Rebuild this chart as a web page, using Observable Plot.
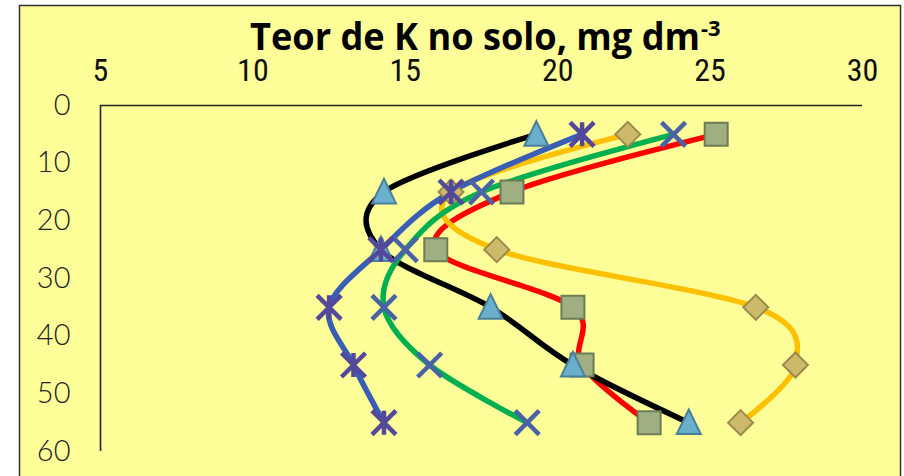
<!DOCTYPE html>
<html>
<head>
<meta charset="utf-8">
<script src="https://cdn.jsdelivr.net/npm/d3@7"></script>
<script src="https://cdn.jsdelivr.net/npm/@observablehq/plot@0.6"></script>
<style>
  html, body { margin: 0; padding: 0; background: #ffffff; }
  #chart svg { display: block; }
</style>
</head>
<body>
<div id="chart"></div>
<script>
// Depth (cm) for each observation
const depths = [5, 15, 25, 35, 45, 55];
// K content (mg dm-3) per series
const serieTriangulo = [19.3, 14.3, 14.2, 17.8, 20.5, 24.3]; // black line
const serieQuadrado  = [25.2, 18.5, 16.0, 20.5, 20.8, 23.0]; // red line
const serieLosango   = [22.3, 16.5, 18.0, 26.5, 27.8, 26.0]; // orange line
const serieXis       = [23.8, 17.5, 15.0, 14.3, 15.8, 19.0]; // green line
const serieAsterisco = [20.8, 16.5, 14.2, 12.5, 13.3, 14.3]; // blue line
const xTicks = [5, 10, 15, 20, 25, 30];
const yTicks = [0, 10, 20, 30, 40, 50, 60];
const titulo = "Teor de K no solo, mg dm";
const tituloSup = "-3";

const rows = vals => depths.map((d, i) => ({x: vals[i], y: d}));

// custom marker symbols (r = sqrt(size/pi))
const sym = draw => ({draw(ctx, size) { draw(ctx, Math.sqrt(size / Math.PI)); }});
const symSquare = sym((c, r) => { c.rect(-r, -r, 2 * r, 2 * r); });
const symDiamond = sym((c, r) => { c.moveTo(0, -r); c.lineTo(r, 0); c.lineTo(0, r); c.lineTo(-r, 0); c.closePath(); });
const symTriangle = sym((c, r) => { c.moveTo(0, -1.1 * r); c.lineTo(r, 0.95 * r); c.lineTo(-r, 0.95 * r); c.closePath(); });
const symTimes = sym((c, r) => { c.moveTo(-r, -r); c.lineTo(r, r); c.moveTo(-r, r); c.lineTo(r, -r); });
const symStar = sym((c, r) => { c.moveTo(-r, -r); c.lineTo(r, r); c.moveTo(-r, r); c.lineTo(r, -r); c.moveTo(0, -r); c.lineTo(0, r); });

const lineOpts = (color) => ({x: "x", y: "y", stroke: color, strokeWidth: 5.5, curve: "cardinal", tension: 0, strokeLinecap: "butt"});

const chart = Plot.plot({
  width: 904,
  height: 476,
  marginLeft: 100,
  marginRight: 42,
  marginTop: 105,
  marginBottom: 25,
  style: {background: "transparent", overflow: "visible"},
  x: {domain: [5, 30]},
  y: {domain: [0, 60], reverse: true},
  marks: [
    Plot.axisX({anchor: "top", ticks: xTicks, tickSize: 0, tickPadding: 25, label: null,
      fontSize: 32, fontFamily: "'Liberation Sans Narrow', 'Roboto Condensed', 'DejaVu Sans Condensed', Roboto, sans-serif", fill: "#111"}),
    Plot.axisY({anchor: "left", ticks: yTicks, tickSize: 0, tickPadding: 30, label: null,
      fontSize: 29, fontFamily: "Lato, 'Noto Sans', sans-serif", fontWeight: 300, fill: "#222"}),
    Plot.ruleY([0], {stroke: "#222", strokeWidth: 1.6}),
    Plot.ruleX([5], {stroke: "#222", strokeWidth: 1.6}),
    Plot.line(rows(serieQuadrado), lineOpts("#ff0000")),
    Plot.line(rows(serieLosango), lineOpts("#ffc000")),
    Plot.line(rows(serieTriangulo), lineOpts("#000000")),
    Plot.line(rows(serieXis), lineOpts("#00b050")),
    Plot.line(rows(serieAsterisco), lineOpts("#3a5db5")),
    Plot.dot(rows(serieQuadrado), {x: "x", y: "y", symbol: symSquare, r: 11.5, fill: "#9faf82", stroke: "#6b7c57", strokeWidth: 2}),
    Plot.dot(rows(serieLosango), {x: "x", y: "y", symbol: symDiamond, r: 12.5, fill: "#cdb96a", stroke: "#9c8a4c", strokeWidth: 2}),
    Plot.dot(rows(serieTriangulo), {x: "x", y: "y", symbol: symTriangle, r: 12, fill: "#6aafcb", stroke: "#4a7f9c", strokeWidth: 2}),
    Plot.dot(rows(serieXis), {x: "x", y: "y", symbol: symTimes, r: 12, fill: "none", stroke: "#4a62a6", strokeWidth: 4.5}),
    Plot.dot(rows(serieAsterisco), {x: "x", y: "y", symbol: symStar, r: 12, fill: "none", stroke: "#53489a", strokeWidth: 4.5})
  ]
});

const svg = d3.select(chart);
// chart area background with border
svg.insert("rect", ":first-child")
  .attr("x", 19.5).attr("y", 5.5).attr("width", 881).attr("height", 490)
  .attr("fill", "#ffff99").attr("stroke", "#333").attr("stroke-width", 1.5);
// title
svg.append("text")
  .attr("x", 250).attr("y", 50)
  .attr("text-anchor", "start")
  .attr("font-family", "'Open Sans', Lato, sans-serif")
  .attr("font-weight", 700).attr("font-size", 38)
  .attr("textLength", 450).attr("lengthAdjust", "spacingAndGlyphs")
  .attr("fill", "#000")
  .text(titulo);
svg.append("text")
  .attr("x", 701).attr("y", 36)
  .attr("text-anchor", "start")
  .attr("font-family", "'Open Sans', Lato, sans-serif")
  .attr("font-weight", 700).attr("font-size", 22)
  .attr("fill", "#000")
  .text(tituloSup);

document.getElementById("chart").appendChild(chart);
</script>
</body>
</html>
